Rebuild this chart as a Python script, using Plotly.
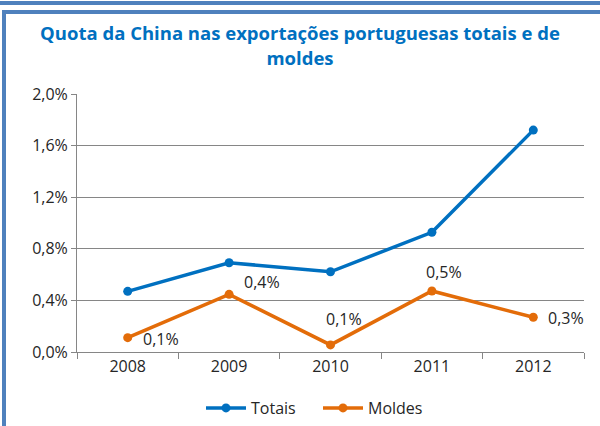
import plotly.graph_objects as go

anos = ["2008", "2009", "2010", "2011", "2012"]
totais = [0.00470, 0.00692, 0.00622, 0.00928, 0.01720]
moldes = [0.00111, 0.00447, 0.00055, 0.00473, 0.00269]

W, H = 600, 426
L, R, T, B = 77, 16, 94, 74

azul = "#0070C0"
laranja = "#E36C09"
moldura = "#4F81BD"
fonte = "Open Sans"


def px(x, y):
    # pixel da página -> coordenadas paper
    return (x - L) / (W - L - R), (H - B - y) / (H - T - B)


fig = go.Figure()
fig.add_trace(go.Scatter(
    x=anos, y=totais, name="Totais", mode="lines+markers",
    line=dict(color=azul, width=3.5), marker=dict(size=9, color=azul),
))
fig.add_trace(go.Scatter(
    x=anos, y=moldes, name="Moldes", mode="lines+markers",
    line=dict(color=laranja, width=3.5), marker=dict(size=9, color=laranja),
))

# rótulos dos moldes (x pelo índice da categoria)
desloc = [(33, -1), (33, 12), (13, 26), (12, 19), (33, -1)]
for i, (v, (dx, dy)) in enumerate(zip(moldes, desloc)):
    fig.add_annotation(
        x=i, y=v, text=f"{v * 100:.1f}%".replace(".", ","),
        showarrow=False, xshift=dx, yshift=dy,
        font=dict(family=fonte, size=16, color="#262626"),
    )

# moldura azul
x0, y0 = px(0, 3)
x1, _ = px(W, 3)
fig.add_shape(type="line", xref="paper", yref="paper", x0=x0, x1=x1, y0=y0, y1=y0,
              line=dict(color=moldura, width=4), layer="above")
a0, b0 = px(4, 12)
a1, b1 = px(W + 10, H + 10)
fig.add_shape(type="rect", xref="paper", yref="paper", x0=a0, x1=a1, y0=b1, y1=b0,
              line=dict(color=moldura, width=4))

fig.update_layout(
    width=W, height=H,
    margin=dict(l=L, r=R, t=T, b=B, autoexpand=False),
    paper_bgcolor="white", plot_bgcolor="white",
    separators=",.",
    font=dict(family=fonte, size=16, color="#262626"),
    title=dict(
        text="Quota da China nas exportações portuguesas totais e de<br>moldes",
        x=0.5, xanchor="center", y=0.905, yanchor="top",
        font=dict(family=fonte, size=18.5, color=azul, weight="bold"),
    ),
    showlegend=True,
    legend=dict(orientation="h", xref="container", x=318 / W, xanchor="center",
                yref="container", y=1 - 408 / H, yanchor="middle",
                itemwidth=40, entrywidth=62, entrywidthmode="pixels",
                font=dict(family=fonte, size=16, color="#262626")),
    xaxis=dict(
        type="category", range=[-0.5, 4.5],
        showgrid=False, showline=True, linecolor="#868686", linewidth=1,
        ticks="outside", tickson="boundaries", ticklen=6, tickcolor="#868686",
        tickfont=dict(family=fonte, size=16, color="#262626"),
    ),
    yaxis=dict(
        range=[0, 0.02], dtick=0.004, tickformat=".1%",
        showgrid=True, gridcolor="#868686", gridwidth=1,
        showline=True, linecolor="#868686", linewidth=1,
        ticks="outside", ticklen=5, tickcolor="#868686",
        tickfont=dict(family=fonte, size=16, color="#262626"),
        zeroline=False,
    ),
)

# sem a margem do body a figura fica encostada ao canto da janela
fig.write_html("out.html", config={"displayModeBar": False},
               post_script="document.body.style.margin='0';")
